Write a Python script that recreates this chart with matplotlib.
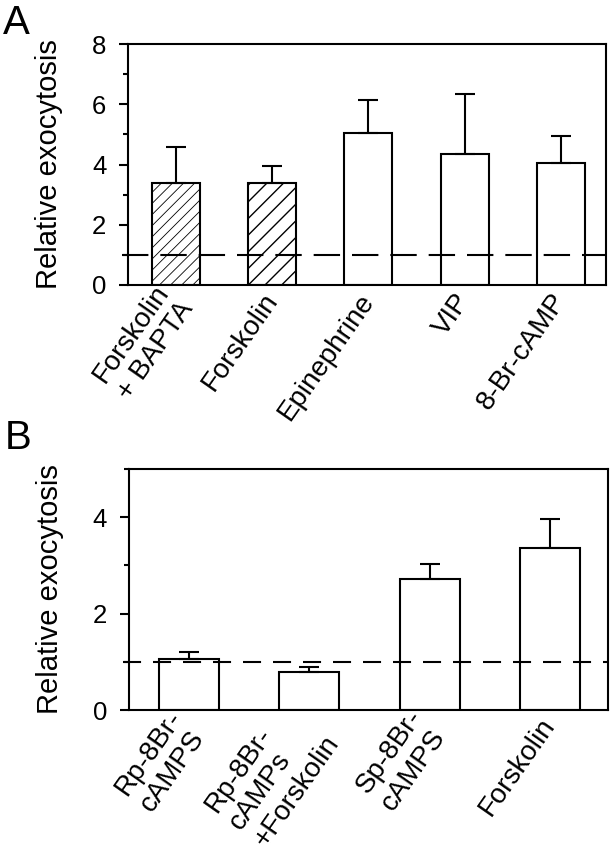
import numpy as np
import matplotlib
matplotlib.use("Agg")
import matplotlib.pyplot as plt

plt.rcParams['font.family'] = ['Liberation Sans', 'DejaVu Sans']
plt.rcParams['lines.scale_dashes'] = False

# panel A data
labels_a = ["Forskolin\n+ BAPTA", "Forskolin", "Epinephrine", "VIP", "8-Br-cAMP"]
means_a = [3.37, 3.37, 5.05, 4.36, 4.05]
sem_a = [1.20, 0.59, 1.09, 1.98, 0.91]
hatch_a = ["///", "//", "", "", ""]

# panel B data
labels_b = ["Rp-8Br-\ncAMPS", "Rp-8Br-\ncAMPs\n+Forskolin", "Sp-8Br-\ncAMPS", "Forskolin"]
means_b = [1.06, 0.79, 2.72, 3.37]
sem_b = [0.14, 0.11, 0.31, 0.59]
hatch_b = ["", "", "", ""]

baseline = 1.0


def draw_panel(ax, labels, means, sem, hatches, xlim, ylim, major, minor, dash):
    x = np.arange(len(means))
    bars = ax.bar(x, means, width=0.5, color="white", edgecolor="black",
                  linewidth=1.5, zorder=2)
    for b, h in zip(bars, hatches):
        if h:
            b.set_hatch(h)
            if hasattr(b, "set_hatch_linewidth"):
                b.set_hatch_linewidth(0.6 if len(h) > 2 else 1.0)
    ax.errorbar(x, means, yerr=[np.zeros(len(sem)), sem], fmt="none",
                ecolor="black", elinewidth=1.5, capsize=7, capthick=1.5, zorder=3)
    ax.axhline(baseline, xmin=-0.012, xmax=1, color="black", lw=1.5,
               dashes=dash, clip_on=False, zorder=4)
    ax.set_xlim(xlim)
    ax.set_ylim(ylim)
    ax.set_yticks(major)
    ax.set_yticks(minor, minor=True)
    ax.set_xticks(x, labels, rotation=55, ha="right", va="center",
                  rotation_mode="anchor", multialignment="left", linespacing=1.2)
    ax.tick_params(axis="y", which="major", length=6.5, width=1.5,
                   direction="out", labelsize=18.5, pad=9)
    ax.tick_params(axis="y", which="minor", length=3.6, width=1.5, direction="out")
    ax.tick_params(axis="x", length=0, labelsize=20, pad=8)
    for s in ax.spines.values():
        s.set_linewidth(1.5)
    ax.set_ylabel("Relative exocytosis", fontsize=21)
    ax.yaxis.set_label_coords(-0.135, 0.5)


fig = plt.figure(figsize=(6.12, 8.52), dpi=100)

ax_a = fig.add_axes([128 / 612, 1 - 285 / 852, 478 / 612, 241 / 852])
draw_panel(ax_a, labels_a, means_a, sem_a, hatch_a, (-0.5, 4.47), (0, 8),
           [0, 2, 4, 6, 8], [1, 3, 5, 7], (19, 8.6))

ax_b = fig.add_axes([128.5 / 612, 1 - 710 / 852, 479 / 612, 241 / 852])
draw_panel(ax_b, labels_b, means_b, sem_b, hatch_b, (-0.508, 3.483), (0, 5),
           [0, 2, 4], [1, 3, 5], (13, 8.6))

fig.text(0.004, 1 - 4 / 852, "A", fontsize=29, va="top")
fig.text(0.008, 1 - 419 / 852, "B", fontsize=29, va="top")

fig.savefig("out.png", dpi=100)
